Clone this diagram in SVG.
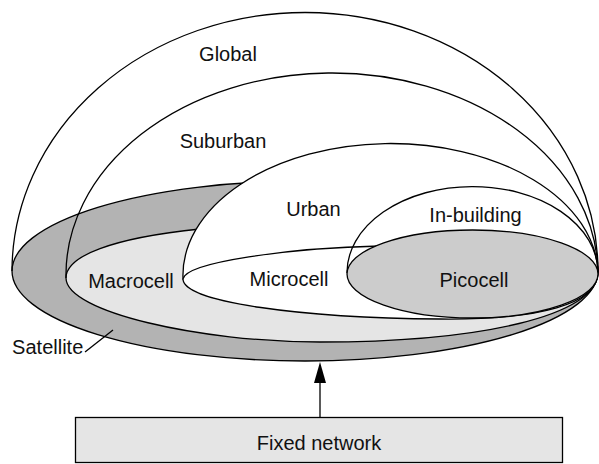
<svg xmlns="http://www.w3.org/2000/svg" width="599" height="464" viewBox="0 0 599 464">
<defs>
<style>
.ln{fill:none;stroke:#000;stroke-width:1.3}
.sh{stroke:#000;stroke-width:1.3}
text{font-family:"Liberation Sans",Arial,sans-serif;font-size:20px;fill:#111;text-anchor:middle}
</style>
<marker id="ah" markerUnits="userSpaceOnUse" markerWidth="21" markerHeight="13" refX="13" refY="6.5" orient="auto">
<path d="M0,0.5 L21,6.5 L0,12.5 Z" fill="#000"/>
</marker>
</defs>
<rect width="599" height="464" fill="#fff"/>
<g id="satellite">
<ellipse class="sh" cx="305" cy="271" rx="293" ry="90" fill="#b3b3b3"/>
</g>
<g id="macrocell">
<path class="sh" fill="#e5e5e5" d="M66 278 C66 256 112 238 200 229 C330 216 560 228 598 272 C598 316 480 342 320 342 C200 342 66 312 66 278 Z"/>
</g>
<g id="urban">
<path class="sh" fill="#fff" d="M183 279 A207.5 132 0 0 1 598 272 Z"/>
</g>
<g id="microcell">
<path class="sh" fill="#fff" d="M183 279 C186 262 290 248 380 246 C480 244 598 248 598 272 C598 304 540 320 440 319 C300 318 183 302 183 279 Z"/>
</g>
<g id="in-building">
<path class="ln" d="M347 273 A125.5 86 0 0 1 598 272"/>
</g>
<g id="picocell">
<ellipse class="sh" cx="472.5" cy="274" rx="125.5" ry="44" fill="#ccc"/>
</g>
<g id="global">
<path class="ln" d="M12 271 A293 259 0 0 1 598 272"/>
</g>
<g id="suburban">
<path class="ln" d="M66 278 A266 202 0 0 1 598 272"/>
</g>
<g id="labels">
<text x="228" y="61">Global</text>
<text x="223" y="148">Suburban</text>
<text x="313.5" y="216">Urban</text>
<text x="475.5" y="222">In-building</text>
<text x="131" y="288">Macrocell</text>
<text x="289" y="286">Microcell</text>
<text x="474" y="287">Picocell</text>
<text x="47.7" y="354">Satellite</text>
</g>
<g id="fixed-network">
<rect class="sh" x="75.5" y="417.5" width="487" height="45" fill="#e5e5e5"/>
<text x="319" y="450">Fixed network</text>
</g>
<g id="connectors">
<line class="ln" x1="320" y1="417.5" x2="320" y2="370" marker-end="url(#ah)"/>
<line class="ln" x1="85" y1="352" x2="113" y2="330"/>
</g>
</svg>
